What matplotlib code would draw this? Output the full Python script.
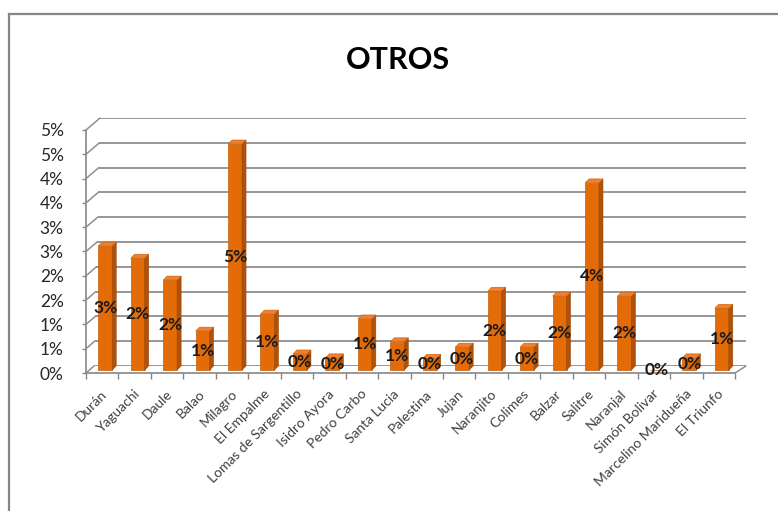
import math
import numpy as np
import matplotlib
matplotlib.use("Agg")
import matplotlib.pyplot as plt
from matplotlib.patches import Polygon, ConnectionPatch
from matplotlib.lines import Line2D
import matplotlib.transforms as mtransforms

plt.rcParams['font.family'] = ['Lato', 'DejaVu Sans']

# ---------------- data ----------------
categories = ["Durán", "Yaguachi", "Daule", "Balao", "Milagro", "El Empalme",
              "Lomas de Sargentillo", "Isidro Ayora", "Pedro Carbo", "Santa Lucia",
              "Palestina", "Jujan", "Naranjito", "Colimes", "Balzar", "Salitre",
              "Naranjal", "Simón Bolivar", "Marcelino Maridueña", "El Triunfo"]
values = [2.55, 2.30, 1.85, 0.80, 4.65, 1.15, 0.33, 0.25, 1.05, 0.58,
          0.24, 0.47, 1.62, 0.47, 1.52, 3.85, 1.52, 0.0, 0.25, 1.27]   # percent
ytick_values = [0, 0.5, 1, 1.5, 2, 2.5, 3, 3.5, 4, 4.5, 5]
ytick_labels = ["0%", "1%", "1%", "2%", "2%", "3%", "3%", "4%", "4%", "5%", "5%"]
title = "OTROS"

# ---------------- figure ----------------
W, H = 778, 511
fig = plt.figure(figsize=(W / 100, H / 100), dpi=100)
fig.patch.set_facecolor("white")

def fx(px):
    return px / W

def fy(py):
    return 1 - py / H

grid_col = "#8f8f8f"
axis_col = "#868686"

# front (main) axes
ax_l, ax_r, ax_b, ax_t = 86, 735, 373, 130
ax = fig.add_axes([fx(ax_l), fy(ax_b), fx(ax_r) - fx(ax_l), fy(ax_t) - fy(ax_b)])
ax.set_xlim(-0.5, len(categories) - 0.5)
ax.set_ylim(0, 5)
ax.patch.set_alpha(0)
for s in ["top", "right"]:
    ax.spines[s].set_visible(False)
for s in ["left", "bottom"]:
    ax.spines[s].set_color(axis_col)
    ax.spines[s].set_linewidth(1.2)

x = np.arange(len(categories))
ax.set_xticks(x)
ax.set_xticklabels([])
ax.tick_params(axis="x", which="major", length=0)
ax.set_xticks(np.arange(len(categories) + 1) - 0.5, minor=True)
ax.tick_params(axis="x", which="minor", length=4, color=axis_col, width=1)
ax.set_yticks(ytick_values)
ax.set_yticklabels(ytick_labels, fontsize=12.5, color="#262626")
ax.tick_params(axis="y", length=3, color=axis_col, width=1, pad=13)

# back wall axes (same value scale, shifted back in depth)
bw_l, bw_r, bw_b, bw_t = 94, 746, 366, 118
axb = fig.add_axes([fx(bw_l), fy(bw_b), fx(bw_r) - fx(bw_l), fy(bw_t) - fy(bw_b)], zorder=-1)
axb.set_xlim(bw_l, bw_r)
axb.set_ylim(0, 5)
axb.axis("off")

def back_left(v):
    return bw_l + 1.2 * v

for v in ytick_values:
    axb.plot([back_left(v), bw_r], [v, v], color=grid_col, lw=1.3, solid_capstyle="butt")
    cp = ConnectionPatch(xyA=(-0.5, v), coordsA=ax.transData,
                         xyB=(back_left(v), v), coordsB=axb.transData,
                         color=grid_col, lw=1.1)
    fig.add_artist(cp)
# floor right edge
cp = ConnectionPatch(xyA=(len(categories) - 0.5, 0), coordsA=ax.transData,
                     xyB=(bw_r, 0), coordsB=axb.transData, color=grid_col, lw=1.1)
fig.add_artist(cp)

# ---------------- 3D-like bars ----------------
fig.canvas.draw()
p0 = ax.transData.transform((0, 0))
p1 = ax.transData.transform((1, 1))
ppx = p1[0] - p0[0]
ppy = p1[1] - p0[1]
bar_trans = ax.transData + mtransforms.ScaledTranslation(3 / 100, 3 / 100, fig.dpi_scale_trans)
bw = 14 / ppx
ddx = 4 / ppx
ddy = 4 / ppy
front_col = "#E36C09"
side_col = "#B0520A"
top_col = "#F08030"

ax.bar(x, values, width=bw, color=front_col, edgecolor="#C65E08", linewidth=0.5,
       transform=bar_trans, zorder=3)
for xi, h in zip(x, values):
    if h <= 0:
        continue
    xr = xi + bw / 2
    xl = xi - bw / 2
    side = Polygon([(xr, 0), (xr + ddx, ddy), (xr + ddx, h + ddy), (xr, h)],
                   closed=True, facecolor=side_col, edgecolor="#9a4708", lw=0.4,
                   transform=bar_trans, zorder=3)
    top = Polygon([(xl, h), (xr, h), (xr + ddx, h + ddy), (xl + ddx, h + ddy)],
                  closed=True, facecolor=top_col, edgecolor="#C65E08", lw=0.4,
                  transform=bar_trans, zorder=3)
    ax.add_patch(side)
    ax.add_patch(top)

# data labels
for xi, h in zip(x, values):
    lab = f"{math.floor(h + 0.5)}%"
    ax.text(xi, h / 2, lab, transform=bar_trans, ha="center", va="center",
            fontsize=12.5, fontweight="bold", color="#1a1a1a", zorder=5)

# category labels
lab_trans = ax.get_xaxis_transform() + mtransforms.ScaledTranslation(3 / 100, -19 / 100, fig.dpi_scale_trans)
for xi, c in zip(x, categories):
    ax.text(xi, 0, c, transform=lab_trans, rotation=45, rotation_mode="anchor",
            ha="right", va="center", fontsize=10, color="#404040")

# title
fig.text(fx(398), fy(60), title, ha="center", va="center", fontsize=22,
         fontweight="bold", color="black")

# chart border (top and left edges visible)
fig.add_artist(Line2D([fx(9), 1], [fy(14), fy(14)], color=axis_col, lw=1.6))
fig.add_artist(Line2D([fx(9), fx(9)], [fy(14), 0], color=axis_col, lw=1.6))

fig.savefig("out.png", dpi=100)
